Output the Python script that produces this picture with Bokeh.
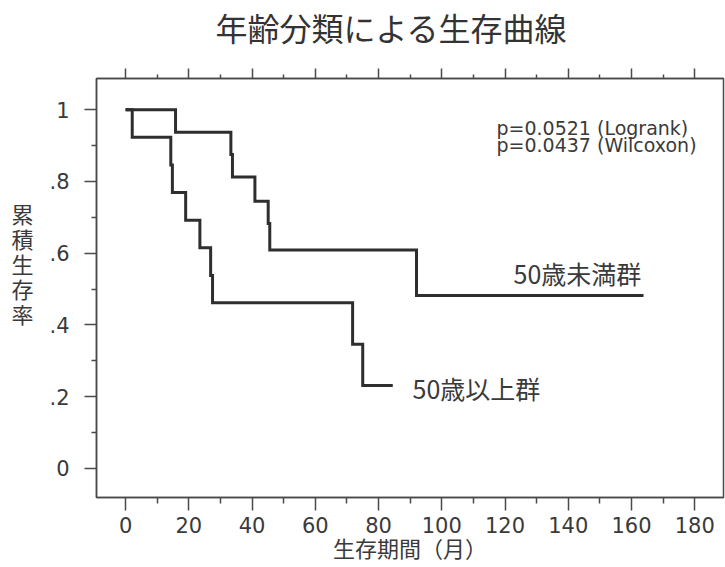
from bokeh.plotting import figure
from bokeh.models import Range1d, LinearAxis, FixedTicker, Label
from bokeh.embed import file_html
from bokeh.resources import INLINE

# Kaplan-Meier estimates: month of each step and cumulative survival after it
under50_times = [0, 15.8, 33.3, 33.8, 40.9, 45.1, 45.6, 92.0]
under50_surv = [1.0, 0.9375, 0.875, 0.8125, 0.745, 0.683, 0.609, 0.482]
under50_end = 163.8

over50_times = [0, 2.1, 14.3, 14.8, 19.0, 23.5, 26.9, 27.5, 71.8, 75.0]
over50_surv = [1.0, 0.923, 0.846, 0.769, 0.692, 0.615, 0.538, 0.462, 0.346, 0.231]
over50_end = 84.5

group_names = ["50歳未満群", "50歳以上群"]
p_value_lines = ["p=0.0521 (Logrank)", "p=0.0437 (Wilcoxon)"]

x_ticks = [0, 20, 40, 60, 80, 100, 120, 140, 160, 180]
x_minor = [10, 30, 50, 70, 90, 110, 130, 150, 170]
y_ticks = [0, 0.2, 0.4, 0.6, 0.8, 1.0]
y_tick_labels = ["0", ".2", ".4", ".6", ".8", "1"]
y_minor = [0.1, 0.3, 0.5, 0.7, 0.9]

title_text = "年齢分類による生存曲線"
x_title = "生存期間（月）"
y_title = "累積生存率"

# plot geometry (canvas pixels) and data ranges
W, H = 725, 567
FL, FR, FT, FB = 96, 723, 78, 497
X0, X1 = -9.2, 189.1
Y0, Y1 = -0.081, 1.087


def sx(px):
    return X0 + (px - FL) * (X1 - X0) / (FR - FL)


def sy(py):
    return Y1 - (py - FT) * (Y1 - Y0) / (FB - FT)


INK = "#2e2e2e"
TXT = "#3a3a3a"
AX = "#4a4a4a"
JP = "Noto Sans CJK JP"

p = figure(width=W, height=H, output_backend="svg", toolbar_location=None,
           x_range=Range1d(X0, X1), y_range=Range1d(Y0, Y1),
           min_border_left=FL, min_border_right=W - FR,
           min_border_top=FT, min_border_bottom=H - FB,
           background_fill_color="white", border_fill_color="white")
p.xgrid.visible = False
p.ygrid.visible = False
p.outline_line_color = AX
p.outline_line_width = 1.5

# title; a short blank second line lifts it clear of the top ticks
p.title.text = title_text + "\n\u3000"
p.title.text_font = JP
p.title.text_font_size = "32px"
p.title.text_font_style = "normal"
p.title.text_color = "#333333"
p.title.text_line_height = 0.40
p.title.align = "left"
p.title.offset = 119
p.title.standoff = 0

# bottom axis
xa = p.xaxis[0]
xa.ticker = FixedTicker(ticks=x_ticks, minor_ticks=x_minor)
xa.major_tick_in = 0
xa.major_tick_out = 13
xa.minor_tick_in = 0
xa.minor_tick_out = 6
xa.axis_line_color = AX
xa.axis_line_width = 1.5
xa.major_tick_line_color = AX
xa.major_tick_line_width = 1.5
xa.minor_tick_line_color = AX
xa.minor_tick_line_width = 1.5
xa.major_label_text_font = "DejaVu Sans"
xa.major_label_text_font_size = "21px"
xa.major_label_text_color = TXT
xa.major_label_standoff = 6
xa.axis_label = x_title
xa.axis_label_text_font = JP
xa.axis_label_text_font_size = "22px"
xa.axis_label_text_font_style = "normal"
xa.axis_label_text_color = TXT
xa.axis_label_standoff = -5

# left axis, with the title stacked one character per line
ya = p.yaxis[0]
ya.ticker = FixedTicker(ticks=y_ticks, minor_ticks=y_minor)
ya.major_label_overrides = {t: lab for t, lab in zip(y_ticks, y_tick_labels)}
ya.major_tick_in = 0
ya.major_tick_out = 12
ya.minor_tick_in = 0
ya.minor_tick_out = 5
ya.axis_line_color = AX
ya.axis_line_width = 1.5
ya.major_tick_line_color = AX
ya.major_tick_line_width = 1.5
ya.minor_tick_line_color = AX
ya.minor_tick_line_width = 1.5
ya.major_label_text_font = "DejaVu Sans"
ya.major_label_text_font_size = "21px"
ya.major_label_text_color = TXT
ya.major_label_standoff = 15
ya.axis_label = "\n".join(list(y_title) + ["\u3000", "\u3000"])
ya.axis_label_orientation = "horizontal"
ya.axis_label_text_font = JP
ya.axis_label_text_font_size = "22px"
ya.axis_label_text_font_style = "normal"
ya.axis_label_text_color = TXT
ya.axis_label_text_line_height = 0.784
ya.axis_label_standoff = 13

# top axis: ticks only
top = LinearAxis(ticker=FixedTicker(ticks=x_ticks, minor_ticks=x_minor),
                 major_tick_in=0, major_tick_out=10,
                 minor_tick_in=0, minor_tick_out=4,
                 axis_line_color=AX, axis_line_width=1.5,
                 major_tick_line_color=AX, major_tick_line_width=1.5,
                 minor_tick_line_color=AX, minor_tick_line_width=1.5,
                 major_label_text_color=None, major_label_text_font_size="8px")
p.add_layout(top, "above")

# survival curves as step functions
for times, surv, end in [(under50_times, under50_surv, under50_end),
                         (over50_times, over50_surv, over50_end)]:
    xs = list(times) + [end]
    ys = list(surv) + [surv[-1]]
    p.step(xs, ys, mode="after", line_width=3, line_color=INK,
           line_join="miter")

# group labels
p.add_layout(Label(x=sx(513), y=sy(272), text=group_names[0],
                   text_font=JP, text_font_size="25px", text_color=TXT,
                   text_align="left", text_baseline="middle"))
p.add_layout(Label(x=sx(412), y=sy(387), text=group_names[1],
                   text_font=JP, text_font_size="25px", text_color=TXT,
                   text_align="left", text_baseline="middle"))

# test statistics
for i, line in enumerate(p_value_lines):
    p.add_layout(Label(x=sx(496), y=sy(127 + 17 * i), text=line,
                       text_font="DejaVu Sans", text_font_size="19px",
                       text_color=TXT, text_align="left",
                       text_baseline="middle"))

open("out.html", "w").write(file_html(p, INLINE))
